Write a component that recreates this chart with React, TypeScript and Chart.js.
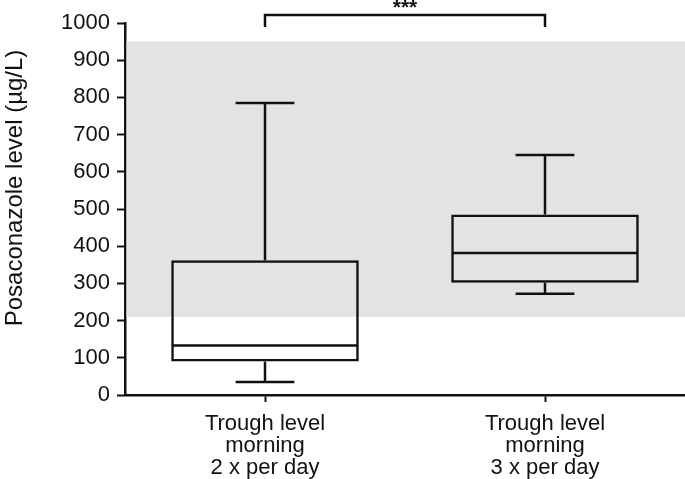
import React, { useEffect, useRef } from 'react';
import { Chart, registerables } from 'chart.js';

Chart.register(...registerables);

const categories: string[][] = [
  ['Trough level', 'morning', '2 x per day'],
  ['Trough level', 'morning', '3 x per day'],
];
const whiskerLow = [35, 272];
const q1 = [90, 302];
const median = [133, 382];
const q3 = [362, 485];
const whiskerHigh = [785, 645];
const yMin = 0;
const yMax = 1000;
const yStep = 100;
const targetRange = [210, 950];
const significanceLabel = '***';
const yTitle = 'Posaconazole level (µg/L)';

const FONT = "'Liberation Sans', Arial, Helvetica, sans-serif";
const INK = '#111111';

const boxExtras = {
  id: 'boxExtras',
  beforeDatasetsDraw(chart: any) {
    const { ctx, chartArea, scales } = chart;
    const y = scales.y;
    const top = y.getPixelForValue(targetRange[1]);
    const bot = y.getPixelForValue(targetRange[0]);
    ctx.save();
    ctx.fillStyle = '#e3e3e3';
    ctx.fillRect(chartArea.left + 1.5, top, chartArea.right - chartArea.left - 1.5, bot - top);
    ctx.restore();
  },
  afterDatasetsDraw(chart: any) {
    const { ctx, scales } = chart;
    const x = scales.x;
    const y = scales.y;
    const meta = chart.getDatasetMeta(0);
    const catW = x.getPixelForValue(1) - x.getPixelForValue(0);
    const capHalf = catW * 0.105;
    ctx.save();
    ctx.strokeStyle = INK;
    ctx.lineWidth = 2.5;
    ctx.lineCap = 'butt';
    const line = (x1: number, y1: number, x2: number, y2: number) => {
      ctx.beginPath();
      ctx.moveTo(x1, y1);
      ctx.lineTo(x2, y2);
      ctx.stroke();
    };
    for (let i = 0; i < categories.length; i++) {
      const cx = x.getPixelForValue(i);
      const bar = meta.data[i];
      const half = bar.width / 2 - 1.25;
      const ym = y.getPixelForValue(median[i]);
      line(cx - half, ym, cx + half, ym);
      const yq3 = y.getPixelForValue(q3[i]);
      const yhi = y.getPixelForValue(whiskerHigh[i]);
      line(cx, yq3, cx, yhi);
      line(cx - capHalf, yhi, cx + capHalf, yhi);
      const yq1 = y.getPixelForValue(q1[i]);
      const ylo = y.getPixelForValue(whiskerLow[i]);
      line(cx, yq1, cx, ylo);
      line(cx - capHalf, ylo, cx + capHalf, ylo);
    }
    // significance bracket
    const x0 = x.getPixelForValue(0);
    const x1 = x.getPixelForValue(1);
    const yb = y.getPixelForValue(yMax) - 8;
    ctx.beginPath();
    ctx.moveTo(x0, yb + 12);
    ctx.lineTo(x0, yb);
    ctx.lineTo(x1, yb);
    ctx.lineTo(x1, yb + 12);
    ctx.lineJoin = 'miter';
    ctx.stroke();
    ctx.fillStyle = INK;
    ctx.font = `bold 21px ${FONT}`;
    ctx.textAlign = 'center';
    ctx.textBaseline = 'alphabetic';
    ctx.fillText(significanceLabel, (x0 + x1) / 2, 14);
    // y axis title
    ctx.translate(15, 188);
    ctx.rotate(-Math.PI / 2);
    ctx.font = `24px ${FONT}`;
    ctx.textBaseline = 'middle';
    ctx.fillText(yTitle, 0, 0);
    ctx.restore();
  },
};

export default function App() {
  const ref = useRef<HTMLCanvasElement | null>(null);
  useEffect(() => {
    document.body.style.margin = '0';
    const canvas = ref.current;
    if (!canvas) return;
    const chart = new Chart(canvas, {
      type: 'bar',
      data: {
        labels: categories as any,
        datasets: [
          {
            label: 'IQR',
            data: q1.map((v, i) => [v, q3[i]]) as any,
            backgroundColor: 'rgba(0,0,0,0)',
            borderColor: INK,
            borderWidth: 2.5,
            borderSkipped: false,
            barPercentage: 0.67,
            categoryPercentage: 1,
          },
        ],
      },
      options: {
        animation: false,
        responsive: true,
        maintainAspectRatio: false,
        layout: { padding: { top: 23, right: 0, bottom: 0, left: 0 } },
        plugins: {
          legend: { display: false },
          tooltip: { enabled: false },
        },
        scales: {
          x: {
            offset: true,
            grid: {
              offset: false,
              drawOnChartArea: false,
              drawTicks: true,
              tickLength: 7,
              tickWidth: 2,
              tickColor: INK,
            },
            border: { display: true, color: INK, width: 2.5 },
            ticks: {
              color: INK,
              padding: 11,
              maxRotation: 0,
              autoSkip: false,
              font: { family: FONT, size: 22, lineHeight: 1.0 },
            },
            afterFit(scale: any) {
              scale.height = 84;
            },
          },
          y: {
            min: yMin,
            max: yMax,
            grid: {
              drawOnChartArea: false,
              drawTicks: true,
              tickLength: 8,
              tickWidth: 2,
              tickColor: INK,
            },
            border: { display: true, color: INK, width: 2.5 },
            ticks: {
              stepSize: yStep,
              color: INK,
              padding: 7,
              font: { family: FONT, size: 22 },
              callback: (v: any) => String(v),
            },
            afterFit(scale: any) {
              scale.width = 125;
            },
          },
        },
      },
      plugins: [boxExtras],
    });
    return () => chart.destroy();
  }, []);
  return (
    <div style={{ width: 685, height: 479, position: 'relative' }}>
      <canvas ref={ref} />
    </div>
  );
}
